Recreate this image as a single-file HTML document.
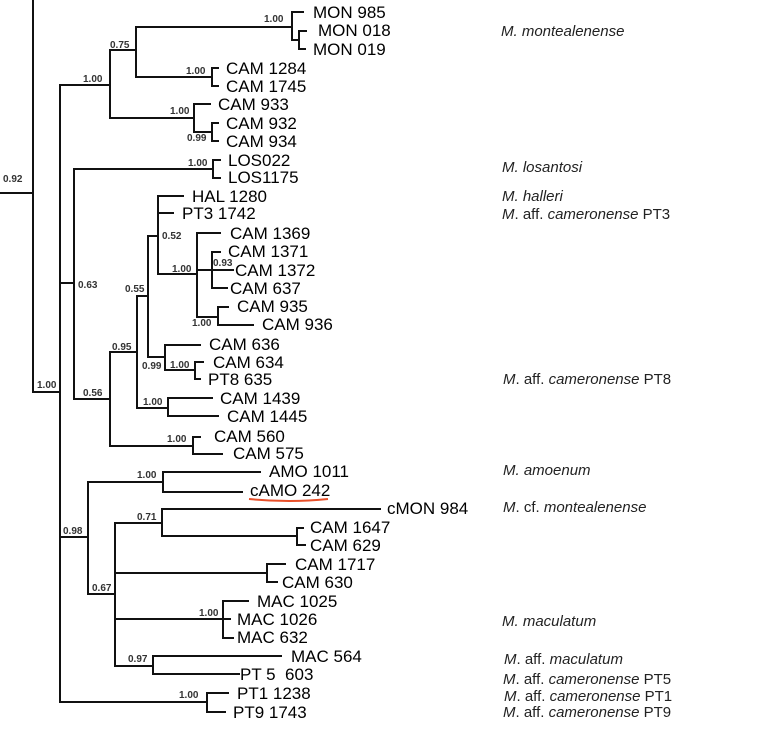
<!DOCTYPE html>
<html>
<head>
<meta charset="utf-8">
<style>
html,body{margin:0;padding:0;background:#fff;}
svg{display:block;}
.t{font-family:"Liberation Sans",Arial,sans-serif;font-size:17px;fill:#000;}
.s{font-family:"Liberation Sans",Arial,sans-serif;font-size:10px;font-weight:bold;fill:#333;}
.sp{font-family:"Liberation Sans",Arial,sans-serif;font-size:15px;fill:#222;}
.i{font-style:italic;}
</style>
</head>
<body>
<svg width="758" height="732" viewBox="0 0 758 732" xmlns="http://www.w3.org/2000/svg">
<g fill="none" stroke="#111" stroke-width="2" stroke-linecap="square">
<path d="M0,193H33M33,0V392M33,392H60"/>
<path d="M60,85V702M60,85H110M60,283H74M60,537H88M60,702H207"/>
<path d="M110,50V118M110,50H136M110,118H194"/>
<path d="M136,27V77M136,27H292M136,77H212"/>
<path d="M292,12V40M292,12H303M292,40H299"/>
<path d="M299,31V49M299,31H306M299,49H305"/>
<path d="M212,68V86M212,68H218M212,86H218"/>
<path d="M194,104V132M194,104H210M194,132H212"/>
<path d="M212,123V141M212,123H218M212,141H218"/>
<path d="M74,169V399M74,169H213M74,399H110"/>
<path d="M213,160V178M213,160H220M213,178H220"/>
<path d="M110,352V446M110,352H137M110,446H193"/>
<path d="M137,296V408M137,296H148M137,408H168"/>
<path d="M148,236V357M148,236H158M148,357H165"/>
<path d="M158,196V274M158,196H183M158,213H173M158,274H197"/>
<path d="M197,233V317M197,233H220M197,270H212M197,317H218"/>
<path d="M212,252V288M212,252H220M212,270H233M212,288H227"/>
<path d="M218,307V325M218,307H228M218,325H253"/>
<path d="M165,345V370M165,345H200M165,370H195"/>
<path d="M195,362V379M195,362H203M195,379H200"/>
<path d="M168,398V416M168,398H212M168,416H218"/>
<path d="M193,437V454M193,437H200M193,454H222"/>
<path d="M88,482V594M88,482H163M88,594H115"/>
<path d="M163,472V492M163,472H260M163,492H242"/>
<path d="M115,523V666M115,523H162M115,573H267M115,619H223M115,666H153"/>
<path d="M162,509V536M162,509H380M162,536H297"/>
<path d="M297,528V545M297,528H303M297,545H305"/>
<path d="M267,564V582M267,564H285M267,582H277"/>
<path d="M223,601V638M223,601H248M223,619H230M223,638H233"/>
<path d="M153,656V674M153,656H281M153,674H239"/>
<path d="M207,693V712M207,693H228M207,712H225"/>
</g>
<path d="M249,499 Q290,503 328,499" fill="none" stroke="#e8502a" stroke-width="2"/>

<g class="t">
<text x="313" y="18">MON 985</text>
<text x="318" y="36">MON 018</text>
<text x="313" y="55">MON 019</text>
<text x="226" y="74">CAM 1284</text>
<text x="226" y="92">CAM 1745</text>
<text x="218" y="110">CAM 933</text>
<text x="226" y="129">CAM 932</text>
<text x="226" y="147">CAM 934</text>
<text x="228" y="166">LOS022</text>
<text x="228" y="183">LOS1175</text>
<text x="192" y="202">HAL 1280</text>
<text x="182" y="219">PT3 1742</text>
<text x="230" y="239">CAM 1369</text>
<text x="228" y="257">CAM 1371</text>
<text x="235" y="276">CAM 1372</text>
<text x="230" y="294">CAM 637</text>
<text x="237" y="312">CAM 935</text>
<text x="262" y="330">CAM 936</text>
<text x="209" y="350">CAM 636</text>
<text x="213" y="368">CAM 634</text>
<text x="208" y="385">PT8 635</text>
<text x="220" y="404">CAM 1439</text>
<text x="227" y="422">CAM 1445</text>
<text x="214" y="442">CAM 560</text>
<text x="233" y="459">CAM 575</text>
<text x="269" y="477">AMO 1011</text>
<text x="250" y="496">cAMO 242</text>
<text x="387" y="514">cMON 984</text>
<text x="310" y="533">CAM 1647</text>
<text x="310" y="551">CAM 629</text>
<text x="295" y="570">CAM 1717</text>
<text x="282" y="588">CAM 630</text>
<text x="257" y="607">MAC 1025</text>
<text x="237" y="625">MAC 1026</text>
<text x="237" y="643">MAC 632</text>
<text x="291" y="662">MAC 564</text>
<text x="240" y="680" xml:space="preserve">PT 5  603</text>
<text x="237" y="699">PT1 1238</text>
<text x="233" y="718">PT9 1743</text>
</g>

<g class="s">
<text x="3" y="182">0.92</text>
<text x="37" y="388">1.00</text>
<text x="264" y="22">1.00</text>
<text x="110" y="48">0.75</text>
<text x="83" y="82">1.00</text>
<text x="186" y="74">1.00</text>
<text x="170" y="114">1.00</text>
<text x="187" y="141">0.99</text>
<text x="188" y="166">1.00</text>
<text x="78" y="288">0.63</text>
<text x="162" y="239">0.52</text>
<text x="172" y="272">1.00</text>
<text x="213" y="266">0.93</text>
<text x="125" y="292">0.55</text>
<text x="192" y="326">1.00</text>
<text x="112" y="350">0.95</text>
<text x="142" y="369">0.99</text>
<text x="170" y="368">1.00</text>
<text x="83" y="396">0.56</text>
<text x="143" y="405">1.00</text>
<text x="167" y="442">1.00</text>
<text x="137" y="478">1.00</text>
<text x="63" y="534">0.98</text>
<text x="137" y="520">0.71</text>
<text x="92" y="591">0.67</text>
<text x="199" y="616">1.00</text>
<text x="128" y="662">0.97</text>
<text x="179" y="698">1.00</text>
</g>

<g class="sp">
<text x="501" y="36"><tspan class="i">M. montealenense</tspan></text>
<text x="502" y="172"><tspan class="i">M. losantosi</tspan></text>
<text x="502" y="201"><tspan class="i">M. halleri</tspan></text>
<text x="502" y="219"><tspan class="i">M</tspan>. aff. <tspan class="i">cameronense</tspan> PT3</text>
<text x="503" y="384"><tspan class="i">M</tspan>. aff. <tspan class="i">cameronense</tspan> PT8</text>
<text x="503" y="475"><tspan class="i">M. amoenum</tspan></text>
<text x="503" y="512"><tspan class="i">M</tspan>. cf. <tspan class="i">montealenense</tspan></text>
<text x="502" y="626"><tspan class="i">M. maculatum</tspan></text>
<text x="504" y="664"><tspan class="i">M</tspan>. aff. <tspan class="i">maculatum</tspan></text>
<text x="503" y="684"><tspan class="i">M</tspan>. aff. <tspan class="i">cameronense</tspan> PT5</text>
<text x="504" y="701"><tspan class="i">M</tspan>. aff. <tspan class="i">cameronense</tspan> PT1</text>
<text x="503" y="717"><tspan class="i">M</tspan>. aff. <tspan class="i">cameronense</tspan> PT9</text>
</g>
</svg>
</body>
</html>
